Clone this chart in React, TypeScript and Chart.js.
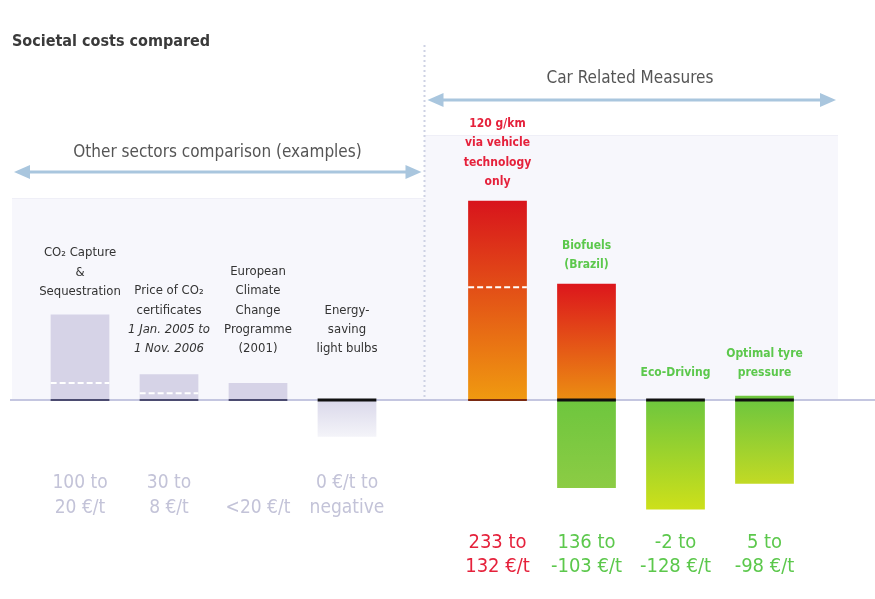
import React, { useEffect, useRef } from 'react';
import { Chart, registerables } from 'chart.js';

Chart.register(...registerables);

// ---------- data ----------
const chartTitle = 'Societal costs compared';
const otherGroupTitle = 'Other sectors comparison (examples)';
const carGroupTitle = 'Car Related Measures';

const otherLabels: string[][] = [
  ['CO₂ Capture', '&', 'Sequestration'],
  ['Price of CO₂', 'certificates', '1 Jan. 2005 to', '1 Nov. 2006'],
  ['European', 'Climate', 'Change', 'Programme', '(2001)'],
  ['Energy-', 'saving', 'light bulbs'],
];
const otherItalicLines: number[][] = [[], [2, 3], [], []];
const otherHigh = [100, 30, 20, 0];
const otherLow = [20, 8, 0, -43];
const otherCostText: string[][] = [
  ['100 to', '20 €/t'],
  ['30 to', '8 €/t'],
  ['<20 €/t'],
  ['0 €/t to', 'negative'],
];

const carLabels: string[][] = [
  ['120 g/km', 'via vehicle', 'technology', 'only'],
  ['Biofuels', '(Brazil)'],
  ['Eco-Driving'],
  ['Optimal tyre', 'pressure'],
];
const carHigh = [233, 136, -2, 5];
const carLow = [132, -103, -128, -98];
const carCostText: string[][] = [
  ['233 to', '132 €/t'],
  ['136 to', '-103 €/t'],
  ['-2 to', '-128 €/t'],
  ['5 to', '-98 €/t'],
];

// ---------- styles ----------
const NARROW = "'Liberation Sans Narrow', 'DejaVu Sans Condensed', 'Arial Narrow', sans-serif";
const RED = '#e5213b';
const GREEN = '#5cc84c';
const carTextColors = [RED, GREEN, GREEN, GREEN];
const carPosTop = ['#d8141c', '#dc161c', '#6ec63e', '#6ec63e'];
const carPosBottom = ['#f09a10', '#ec8e12', '#6ec63e', '#72c83e'];
const carNegBottom = ['#8ccc44', '#8ccc44', '#cde01a', '#c2da24'];

const floating = (lo: number[], hi: number[]) =>
  lo.map((l, i) => [Math.min(l, 0), Math.max(hi[i], 0)]);

function otherFill(c: any) {
  const i = c.dataIndex;
  if (i === undefined) return '#d6d3e7';
  if (otherHigh[i] > 0) return '#d6d3e7';
  const chart = c.chart;
  const y = chart.scales.y;
  if (!y || !chart.chartArea) return '#e6e5f0';
  const top = y.getPixelForValue(0);
  const bot = y.getPixelForValue(Math.min(otherLow[i], 0));
  const g = chart.ctx.createLinearGradient(0, top, 0, bot);
  g.addColorStop(0, '#dad8ea');
  g.addColorStop(1, '#f4f4f9');
  return g;
}

function carFill(c: any) {
  const i = c.dataIndex;
  if (i === undefined) return '#f08c10';
  const chart = c.chart;
  const y = chart.scales.y;
  if (!y || !chart.chartArea) return '#f08c10';
  const hi = Math.max(carHigh[i], 0);
  const lo = Math.min(carLow[i], 0);
  const top = y.getPixelForValue(hi);
  const bot = y.getPixelForValue(lo);
  const z = y.getPixelForValue(0);
  const g = chart.ctx.createLinearGradient(0, top, 0, bot);
  const t0 = Math.max(0, Math.min(1, (z - top) / (bot - top)));
  if (hi > 0) {
    g.addColorStop(0, carPosTop[i]);
    g.addColorStop(t0, carPosBottom[i]);
  }
  if (lo < 0) {
    g.addColorStop(t0, '#6ec63e');
    g.addColorStop(1, carNegBottom[i]);
  }
  return g;
}

function arrow(ctx: CanvasRenderingContext2D, x1: number, x2: number, y: number) {
  ctx.save();
  ctx.strokeStyle = '#a9c6de';
  ctx.fillStyle = '#a9c6de';
  ctx.lineWidth = 3;
  ctx.beginPath();
  ctx.moveTo(x1 + 10, y);
  ctx.lineTo(x2 - 10, y);
  ctx.stroke();
  ctx.beginPath();
  ctx.moveTo(x1, y);
  ctx.lineTo(x1 + 16, y - 7);
  ctx.lineTo(x1 + 16, y + 7);
  ctx.closePath();
  ctx.fill();
  ctx.beginPath();
  ctx.moveTo(x2, y);
  ctx.lineTo(x2 - 16, y - 7);
  ctx.lineTo(x2 - 16, y + 7);
  ctx.closePath();
  ctx.fill();
  ctx.restore();
}

const decorPlugin = {
  id: 'decor',
  beforeDatasetsDraw(chart: any) {
    const { ctx } = chart;
    const y = chart.scales.y;
    const xg = chart.scales.xGap;
    const xc = chart.scales.xCar;
    const zero = y.getPixelForValue(0);
    const sep = xg.left + 33;
    const rightEdge = xc.right + 29;
    ctx.save();
    ctx.fillStyle = '#f7f7fc';
    ctx.fillRect(12, 198, sep - 12, zero - 198);
    ctx.fillRect(sep, 135, rightEdge - sep, zero - 135);
    ctx.strokeStyle = '#efeff7';
    ctx.lineWidth = 1;
    ctx.beginPath();
    ctx.moveTo(12, 198.5);
    ctx.lineTo(sep, 198.5);
    ctx.moveTo(sep, 135.5);
    ctx.lineTo(rightEdge, 135.5);
    ctx.stroke();
    // vertical dotted separator
    ctx.strokeStyle = '#cdd2e4';
    ctx.lineWidth = 2;
    ctx.setLineDash([2, 3]);
    ctx.beginPath();
    ctx.moveTo(sep, 45);
    ctx.lineTo(sep, zero);
    ctx.stroke();
    ctx.setLineDash([]);
    // zero line
    ctx.strokeStyle = '#c4c6e0';
    ctx.lineWidth = 2;
    ctx.beginPath();
    ctx.moveTo(10, zero);
    ctx.lineTo(chart.width, zero);
    ctx.stroke();
    ctx.restore();
  },
  afterDatasetsDraw(chart: any) {
    const { ctx } = chart;
    const y = chart.scales.y;
    const xo = chart.scales.xOther;
    const xg = chart.scales.xGap;
    const xc = chart.scales.xCar;
    const zero = y.getPixelForValue(0);
    const sep = xg.left + 33;
    ctx.save();

    // title
    ctx.fillStyle = '#3a3a3a';
    ctx.font = `bold 16px ${NARROW}`;
    ctx.textAlign = 'left';
    ctx.textBaseline = 'middle';
    ctx.fillText(chartTitle, 12, 42);

    // group headers
    ctx.fillStyle = '#555555';
    ctx.font = `17px ${NARROW}`;
    ctx.textAlign = 'center';
    ctx.fillText(otherGroupTitle, (xo.left + xg.left) / 2 + 4, 153);
    ctx.fillText(carGroupTitle, (xc.left + xc.right) / 2 - 1, 79);
    arrow(ctx, 14, sep - 3, 172);
    arrow(ctx, sep + 3, xc.right + 27, 100);

    const groups = [
      { ds: 0, hi: otherHigh, lo: otherLow, labels: otherLabels, cost: otherCostText, left: true },
      { ds: 1, hi: carHigh, lo: carLow, labels: carLabels, cost: carCostText, left: false },
    ];
    for (const g of groups) {
      const meta = chart.getDatasetMeta(g.ds);
      meta.data.forEach((bar: any, i: number) => {
        const p = bar.getProps(['x', 'y', 'base', 'width'], true);
        const bx = p.x - p.width / 2;
        const top = Math.min(p.y, p.base);
        // dashed range line
        if (g.lo[i] > 0) {
          const yy = y.getPixelForValue(g.lo[i]);
          ctx.strokeStyle = '#ffffff';
          ctx.lineWidth = 2;
          ctx.setLineDash([6, 3]);
          ctx.beginPath();
          ctx.moveTo(bx, yy);
          ctx.lineTo(bx + p.width, yy);
          ctx.stroke();
          ctx.setLineDash([]);
        }
        // zero marker
        const neg = g.lo[i] < 0 || g.hi[i] <= 0;
        ctx.strokeStyle = neg ? '#111111' : g.left ? '#4b4b70' : '#7a2a12';
        ctx.lineWidth = neg ? 3 : 2;
        ctx.beginPath();
        ctx.moveTo(bx, zero);
        ctx.lineTo(bx + p.width, zero);
        ctx.stroke();

        // category label above bar
        const lines = g.labels[i];
        const lh = 19.3;
        const lastCenter = g.left
          ? Math.min(top - 23, zero - 51)
          : Math.min(top - 19, zero - 27);
        ctx.textAlign = 'center';
        ctx.textBaseline = 'middle';
        lines.forEach((t, k) => {
          const yy = lastCenter - (lines.length - 1 - k) * lh;
          if (g.left) {
            const it = otherItalicLines[i].includes(k);
            ctx.font = `${it ? 'italic ' : ''}13px ${NARROW}`;
            ctx.fillStyle = '#333333';
          } else {
            ctx.font = `bold 12px ${NARROW}`;
            ctx.fillStyle = carTextColors[i];
          }
          ctx.fillText(t, p.x, yy);
        });

        // cost text below
        const cl = g.cost[i];
        cl.forEach((t, k) => {
          if (g.left) {
            ctx.font = `19px ${NARROW}`;
            ctx.fillStyle = '#c3c3d8';
            const yy = 508 - (cl.length - 1 - k) * 25;
            ctx.fillText(t, p.x, yy);
          } else {
            ctx.font = `20px ${NARROW}`;
            ctx.fillStyle = carTextColors[i];
            const yy = 567 - (cl.length - 1 - k) * 24;
            ctx.fillText(t, p.x, yy);
          }
        });
      });
    }
    ctx.restore();
  },
};

export default function App() {
  const ref = useRef<HTMLCanvasElement | null>(null);
  useEffect(() => {
    if (!ref.current) return;
    const chart = new Chart(ref.current, {
      type: 'bar',
      data: {
        datasets: [
          {
            label: 'Other sectors',
            xAxisID: 'xOther',
            yAxisID: 'y',
            data: floating(otherLow, otherHigh) as any,
            backgroundColor: otherFill as any,
            barPercentage: 0.66,
            categoryPercentage: 1,
            grouped: false,
          },
          {
            label: 'Car related measures',
            xAxisID: 'xCar',
            yAxisID: 'y',
            data: floating(carLow, carHigh) as any,
            backgroundColor: carFill as any,
            barPercentage: 0.66,
            categoryPercentage: 1,
            grouped: false,
          },
        ],
      },
      options: {
        responsive: false,
        animation: false,
        layout: { padding: { left: 35.5, right: 66, top: 143.5, bottom: 28 } },
        plugins: { legend: { display: false }, tooltip: { enabled: false }, title: { display: false } },
        scales: {
          xOther: {
            type: 'category',
            labels: otherLabels.map((l) => l.join(' ')),
            position: 'bottom',
            stack: 'x',
            stackWeight: 356,
            offset: true,
            display: false,
          },
          xGap: {
            type: 'category',
            labels: [''],
            position: 'bottom',
            stack: 'x',
            stackWeight: 61.5,
            display: false,
          },
          xCar: {
            type: 'category',
            labels: carLabels.map((l) => l.join(' ')),
            position: 'bottom',
            stack: 'x',
            stackWeight: 356,
            offset: true,
            display: false,
          },
          y: { type: 'linear', min: -200, max: 300, display: false },
        },
      } as any,
      plugins: [decorPlugin],
    });
    return () => chart.destroy();
  }, []);
  return (
    <div style={{ position: 'fixed', left: 0, top: 0, width: 875, height: 599, background: '#ffffff' }}>
      <canvas ref={ref} width={875} height={599} style={{ display: 'block' }} />
    </div>
  );
}
